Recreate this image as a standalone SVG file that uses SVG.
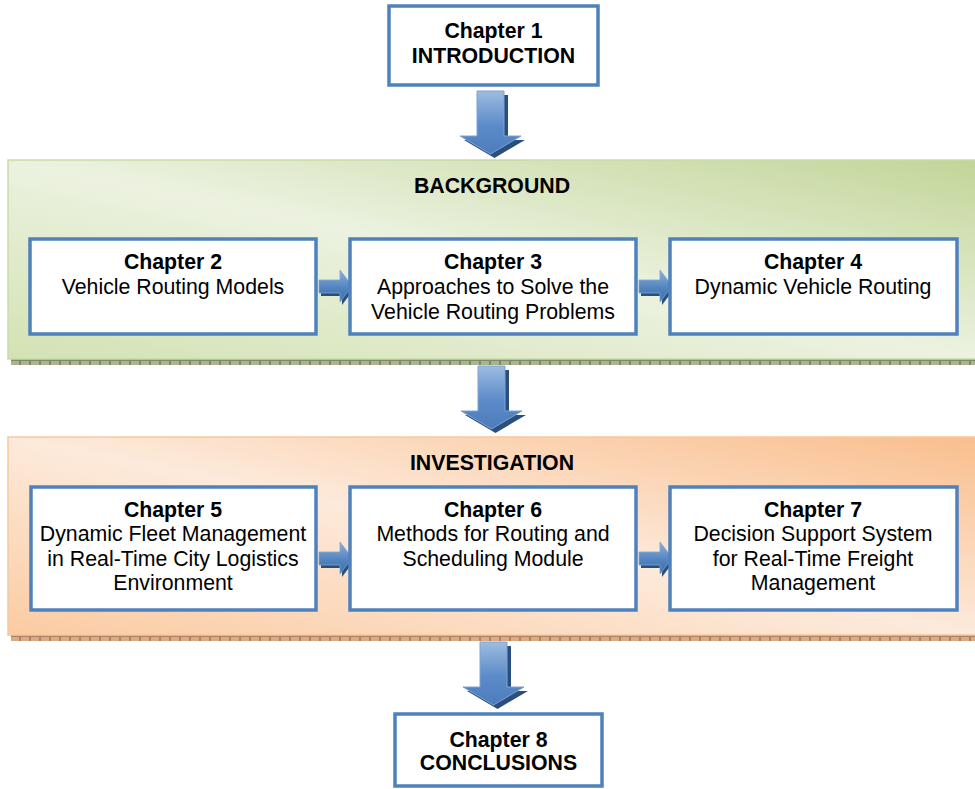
<svg xmlns="http://www.w3.org/2000/svg" width="975" height="789" viewBox="0 0 975 789">
<style>
.box{fill:#ffffff;stroke:#4f81bd;stroke-width:3.5}
.t{font-family:"Liberation Sans",Arial,Helvetica,sans-serif;font-size:21.3px;fill:#000;text-anchor:middle}
.b{font-weight:bold}
.shadow{fill:#2a4f7e}
.darr{fill:url(#gDown);stroke:#7ea3d2;stroke-width:1}
.rarr{fill:url(#gRight);stroke:#7ea3d2;stroke-width:0.8}
</style>
<defs>
<linearGradient id="gGreen" x1="0" y1="1" x2="1" y2="0">
<stop offset="0" stop-color="#d3e2b3"/>
<stop offset="0.5" stop-color="#ecf2e0"/>
<stop offset="1" stop-color="#c2d598"/>
</linearGradient>
<linearGradient id="gOrange" x1="0" y1="1" x2="1" y2="0">
<stop offset="0" stop-color="#fbcba2"/>
<stop offset="0.5" stop-color="#fdeadb"/>
<stop offset="1" stop-color="#f9be8c"/>
</linearGradient>
<linearGradient id="gDown" x1="0" y1="0" x2="0" y2="1">
<stop offset="0" stop-color="#9ebce1"/>
<stop offset="0.55" stop-color="#5b8bc8"/>
<stop offset="1" stop-color="#4c7cba"/>
</linearGradient>
<linearGradient id="gRight" x1="0" y1="0" x2="0" y2="1">
<stop offset="0" stop-color="#8fb1dc"/>
<stop offset="0.6" stop-color="#4f81bd"/>
<stop offset="1" stop-color="#3f6ea9"/>
</linearGradient>
<pattern id="pGreen" x="0" y="0" width="10" height="6" patternUnits="userSpaceOnUse">
<rect width="10" height="6" fill="#a9b592"/>
<rect x="0.5" y="0.5" width="9" height="5" fill="none" stroke="#7e8a68" stroke-width="1"/>
</pattern>
<pattern id="pOrange" x="0" y="0" width="10" height="6" patternUnits="userSpaceOnUse">
<rect width="10" height="6" fill="#d8ac88"/>
<rect x="0.5" y="0.5" width="9" height="5" fill="none" stroke="#b08461" stroke-width="1"/>
</pattern>
<path id="downArrow" d="M0,0 H27 V45 H44 L13.5,63 L-17,45 H0 Z"/>
<path id="rightArrow" d="M0,-7 H21 V-17 L33,-1 L21,15 V6 H0 Z"/>
</defs>

<!-- panels -->
<g id="background-panel">
<rect x="11" y="359" width="964" height="6" fill="url(#pGreen)"/>
<rect x="8" y="160" width="970" height="199" fill="url(#gGreen)" stroke="#c9dba6" stroke-width="1.5"/>
<text class="t b" x="492" y="193">BACKGROUND</text>
</g>
<g id="investigation-panel">
<rect x="11" y="635" width="964" height="6" fill="url(#pOrange)"/>
<rect x="8" y="437" width="970" height="198" fill="url(#gOrange)" stroke="#f8c79f" stroke-width="1.5"/>
<text class="t b" x="492" y="470">INVESTIGATION</text>
</g>

<!-- connectors -->
<g id="connectors">
<g transform="translate(477,91)"><use href="#downArrow" class="shadow" transform="translate(4,4)"/><use href="#downArrow" class="darr"/></g>
<g transform="translate(478,366)"><use href="#downArrow" class="shadow" transform="translate(4,4)"/><use href="#downArrow" class="darr"/></g>
<g transform="translate(480,642)"><use href="#downArrow" class="shadow" transform="translate(4,4)"/><use href="#downArrow" class="darr"/></g>
<g transform="translate(319,287)"><use href="#rightArrow" class="shadow" transform="translate(2,3)"/><use href="#rightArrow" class="rarr"/></g>
<g transform="translate(639,287)"><use href="#rightArrow" class="shadow" transform="translate(2,3)"/><use href="#rightArrow" class="rarr"/></g>
<g transform="translate(319,559)"><use href="#rightArrow" class="shadow" transform="translate(2,3)"/><use href="#rightArrow" class="rarr"/></g>
<g transform="translate(639,559)"><use href="#rightArrow" class="shadow" transform="translate(2,3)"/><use href="#rightArrow" class="rarr"/></g>
</g>

<!-- nodes -->
<g id="ch1">
<rect class="box" x="389" y="6" width="209" height="79"/>
<text class="t b" x="493.5" y="38">Chapter 1</text>
<text class="t b" x="493.5" y="63">INTRODUCTION</text>
</g>
<g id="ch2">
<rect class="box" x="30" y="239" width="286" height="95"/>
<text class="t b" x="173" y="269">Chapter 2</text>
<text class="t" x="173" y="294">Vehicle Routing Models</text>
</g>
<g id="ch3">
<rect class="box" x="350" y="239" width="286" height="95"/>
<text class="t b" x="493" y="269">Chapter 3</text>
<text class="t" x="493" y="294">Approaches to Solve the</text>
<text class="t" x="493" y="319">Vehicle Routing Problems</text>
</g>
<g id="ch4">
<rect class="box" x="670" y="239" width="287" height="95"/>
<text class="t b" x="813" y="269">Chapter 4</text>
<text class="t" x="813" y="294">Dynamic Vehicle Routing</text>
</g>
<g id="ch5">
<rect class="box" x="31" y="487" width="285" height="123"/>
<text class="t b" x="173" y="517">Chapter 5</text>
<text class="t" x="173" y="541">Dynamic Fleet Management</text>
<text class="t" x="173" y="566">in Real-Time City Logistics</text>
<text class="t" x="173" y="590">Environment</text>
</g>
<g id="ch6">
<rect class="box" x="350" y="487" width="286" height="123"/>
<text class="t b" x="493" y="517">Chapter 6</text>
<text class="t" x="493" y="541">Methods for Routing and</text>
<text class="t" x="493" y="566">Scheduling Module</text>
</g>
<g id="ch7">
<rect class="box" x="670" y="487" width="287" height="123"/>
<text class="t b" x="813" y="517">Chapter 7</text>
<text class="t" x="813" y="541">Decision Support System</text>
<text class="t" x="813" y="566">for Real-Time Freight</text>
<text class="t" x="813" y="590">Management</text>
</g>
<g id="ch8">
<rect class="box" x="395" y="714" width="207" height="72"/>
<text class="t b" x="498.5" y="747">Chapter 8</text>
<text class="t b" x="498.5" y="770">CONCLUSIONS</text>
</g>
</svg>
